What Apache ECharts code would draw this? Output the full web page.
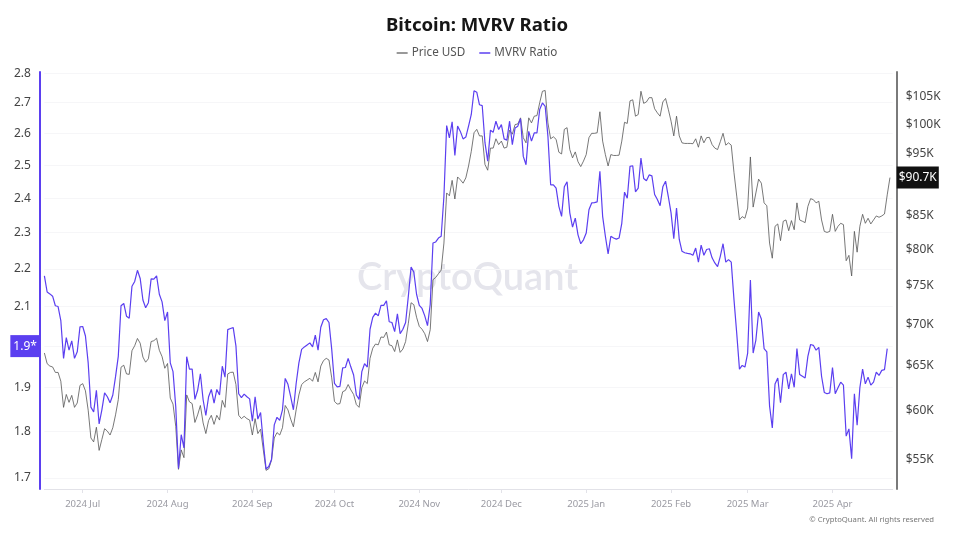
<!DOCTYPE html>
<html>
<head>
<meta charset="utf-8">
<title>Bitcoin: MVRV Ratio</title>
<style>html,body{margin:0;padding:0;background:#fff}#c{width:954px;height:533px}</style>
<script src="https://cdn.jsdelivr.net/npm/echarts@6/dist/echarts.min.js"></script>
</head>
<body>
<div id="c"></div>
<script>
const startDate = Date.UTC(2024, 5, 17);
const dayCount = 311;
const mvrvRatio = [
2.181,2.138,2.133,2.127,2.102,2.1,2.064,1.97,2.021,1.99,
2.013,1.97,1.986,2.048,2.049,2.025,1.959,1.855,1.844,1.894,
1.817,1.849,1.888,1.879,1.865,1.883,1.926,1.975,2.102,2.108,
2.075,2.07,2.153,2.166,2.196,2.174,2.117,2.097,2.11,2.173,
2.172,2.181,2.132,2.112,2.064,2.086,1.959,1.938,1.856,1.72,
1.793,1.764,1.974,1.944,1.944,1.873,1.894,1.933,1.872,1.836,
1.879,1.896,1.864,1.896,1.883,1.951,1.925,2.041,2.044,2.046,
2.0,1.886,1.877,1.885,1.879,1.874,1.823,1.879,1.828,1.843,
1.775,1.719,1.724,1.739,1.815,1.832,1.825,1.849,1.922,1.908,
1.879,1.849,1.91,1.959,1.992,1.998,2.003,2.008,1.998,2.027,
1.99,2.047,2.066,2.069,2.059,1.992,1.91,1.902,1.903,1.947,
1.948,1.97,1.949,1.93,1.883,1.873,1.938,1.957,1.949,2.042,
2.072,2.083,2.076,2.103,2.103,2.115,2.061,2.059,2.036,2.081,
2.031,2.042,2.059,2.127,2.205,2.191,2.132,2.103,2.095,2.076,
2.051,2.106,2.271,2.274,2.285,2.29,2.405,2.625,2.585,2.637,
2.53,2.623,2.606,2.582,2.588,2.623,2.661,2.74,2.735,2.693,
2.69,2.57,2.512,2.61,2.603,2.639,2.612,2.628,2.582,2.578,
2.639,2.564,2.617,2.623,2.647,2.527,2.501,2.606,2.575,2.601,
2.601,2.677,2.699,2.688,2.591,2.44,2.44,2.43,2.376,2.347,
2.434,2.449,2.357,2.316,2.342,2.294,2.269,2.28,2.299,2.366,
2.386,2.387,2.389,2.481,2.347,2.29,2.241,2.29,2.285,2.282,
2.285,2.327,2.418,2.4,2.496,2.498,2.419,2.43,2.522,2.459,
2.452,2.47,2.467,2.411,2.396,2.378,2.434,2.451,2.405,2.357,
2.283,2.371,2.281,2.248,2.244,2.242,2.241,2.237,2.257,2.218,
2.265,2.237,2.253,2.255,2.23,2.216,2.206,2.234,2.269,2.218,
2.225,2.218,2.118,2.032,1.944,1.953,1.949,1.983,2.17,1.983,
2.015,2.086,2.068,1.994,1.986,1.858,1.808,1.909,1.923,1.865,
1.931,1.937,1.897,1.933,1.901,1.994,1.931,1.927,1.923,1.975,
2.004,2.002,1.99,1.997,1.927,1.889,1.886,1.888,1.948,1.886,
1.9,1.913,1.906,1.79,1.806,1.741,1.886,1.814,1.9,1.944,
1.909,1.925,1.906,1.913,1.937,1.929,1.941,1.943,1.994
];
const priceK = [
66.33,65.08,64.8,64.7,64.07,64.07,63.07,60.2,61.6,60.74,
61.5,60.2,60.67,62.6,62.8,62.0,59.9,57.0,56.6,58.1,
55.75,56.85,57.95,57.7,57.3,58.05,59.4,61.04,64.67,64.9,
63.9,63.85,66.6,67.2,68.07,67.5,65.85,65.25,65.65,67.7,
67.8,68.1,66.65,65.9,64.55,65.1,61.2,60.55,58.2,53.9,
55.8,55.03,61.55,60.8,60.6,58.6,59.4,60.4,58.55,57.45,
58.8,59.35,58.4,59.35,58.85,60.95,60.2,63.9,64.07,64.1,
62.7,59.35,59.0,59.25,59.0,58.85,57.3,59.0,57.45,57.9,
55.8,53.8,53.95,54.8,57.0,57.55,57.3,58.05,60.4,59.93,
58.95,58.15,59.93,61.55,62.7,63.0,63.2,63.4,63.07,64.07,
63.0,64.8,65.44,65.7,65.5,63.45,60.85,60.55,60.6,61.9,
62.05,62.7,62.1,61.6,60.5,60.2,62.35,63.1,62.8,65.7,
66.9,67.4,67.3,68.25,68.2,68.85,67.3,67.2,66.5,67.9,
66.4,66.8,67.7,69.95,72.55,72.3,70.7,69.55,69.2,68.65,
67.7,69.15,75.6,75.9,76.4,76.9,80.7,88.25,87.8,90.25,
87.3,90.8,90.35,89.8,90.65,92.6,95.05,98.25,98.85,97.7,
97.7,92.85,91.9,95.6,95.6,97.2,96.2,96.8,95.6,95.75,
98.7,98.0,99.7,99.8,100.9,97.4,96.5,100.9,100.0,101.2,
101.3,103.65,105.8,105.95,100.0,97.2,97.55,97.1,94.9,94.6,
98.85,99.15,95.35,93.95,94.95,93.3,92.5,93.4,94.5,97.4,
98.15,98.15,98.25,102.0,96.8,94.5,92.6,94.5,94.35,94.35,
94.4,96.8,100.1,99.9,104.0,104.2,101.2,101.5,105.8,103.55,
103.8,104.6,104.6,102.55,101.8,101.2,103.8,104.45,102.45,100.3,
97.7,101.2,97.7,96.5,96.4,96.4,96.4,96.35,97.2,95.75,
97.7,96.5,97.4,97.45,96.2,95.6,95.35,96.7,98.15,96.1,
96.5,96.1,91.5,87.75,84.1,84.6,84.35,85.9,94.1,86.05,
88.25,90.45,89.8,86.7,86.25,80.7,78.55,83.15,83.5,81.05,
83.9,84.1,82.5,84.0,82.65,86.7,84.1,83.9,83.7,86.15,
87.35,87.2,86.7,86.95,84.1,82.4,82.25,82.4,84.95,82.4,
83.15,83.6,83.4,78.2,78.95,76.1,82.4,79.4,83.15,84.95,
83.6,84.35,83.5,84.1,84.7,84.5,84.7,85.0,87.95,90.7
];
const mvrvTicks = [1.7,1.8,1.9,2.0,2.1,2.2,2.3,2.4,2.5,2.6,2.7,2.8];
const priceTicks = [55,60,65,70,75,80,85,90.7,95,100,105];
const mvrvTag = '1.9*';
const purple = '#5b3ff0';
const font = '"Noto Sans","Open Sans",sans-serif';
const months = ['Jan','Feb','Mar','Apr','May','Jun','Jul','Aug','Sep','Oct','Nov','Dec'];
const dates = [];
for (let i = 0; i < dayCount; i++) dates.push(new Date(startDate + i * 864e5).toISOString().slice(0, 10));
const isMonthStart = (idx, v) => v.slice(8) === '01';

const chart = echarts.init(document.getElementById('c'), null, {renderer: 'canvas'});
chart.setOption({
  animation: false,
  backgroundColor: '#fff',
  textStyle: {fontFamily: font},
  title: {
    text: 'Bitcoin: MVRV Ratio', left: 'center', top: 11,
    textStyle: {fontFamily: font, fontWeight: 700, fontSize: 18.6, color: '#161616'}
  },
  legend: {
    top: 42, left: 'center', itemWidth: 11, itemHeight: 1.5, itemGap: 14,
    icon: 'rect',
    textStyle: {fontFamily: font, fontSize: 11.7, color: '#555', padding: [0, 0, 0, -1]},
    data: ['Price USD', 'MVRV Ratio']
  },
  grid: {left: 44.4, right: 61.3, top: 72, bottom: 44},
  xAxis: {
    type: 'category', data: dates, boundaryGap: false,
    axisLine: {lineStyle: {color: '#e2e2e8', width: 1}},
    axisTick: {interval: isMonthStart, length: 4, lineStyle: {color: '#e2e2e8'}},
    axisLabel: {
      interval: isMonthStart, margin: 10, fontSize: 9.5, color: '#9a9aa2', fontFamily: font,
      formatter: v => v.slice(0, 4) + ' ' + months[+v.slice(5, 7) - 1]
    },
    splitLine: {show: false}
  },
  yAxis: [
    {
      type: 'log', position: 'left', offset: 4.5, min: 1.677, max: 2.804,
      axisLine: {show: true, lineStyle: {color: purple, width: 2}},
      axisTick: {show: false, customValues: mvrvTicks},
      splitLine: {show: true, lineStyle: {color: '#f6f6f8', width: 1}},
      axisLabel: {
        customValues: mvrvTicks, margin: 0, hideOverlap: false, color: '#444',
        formatter: v => Math.abs(v - 2) < 1e-6 ? '{tag|' + mvrvTag + '}' : '{n|' + v.toFixed(1) + '}',
        rich: {
          n: {fontSize: 12, color: '#444', fontFamily: font, padding: [0, 9, 0, 0]},
          tag: {fontSize: 12, color: '#fff', backgroundColor: purple, fontFamily: font, padding: [5, 3, 5, 3]}
        }
      }
    },
    {
      type: 'log', position: 'right', offset: 4, min: 52.04, max: 109.5,
      axisLine: {show: true, lineStyle: {color: '#7a7a7a', width: 2}},
      axisTick: {show: false, customValues: priceTicks},
      splitLine: {show: false},
      axisLabel: {
        customValues: priceTicks, margin: 0, hideOverlap: false, color: '#444',
        formatter: v => Math.abs(v - 90.7) < 1e-6 ? '{tag|$' + v + 'K}' : '{n|$' + v + 'K}',
        rich: {
          n: {fontSize: 12, color: '#444', fontFamily: font, padding: [3, 0, 0, 9]},
          tag: {fontSize: 12, color: '#fff', backgroundColor: '#111', fontFamily: font, padding: [5, 2, 5, 2]}
        }
      }
    }
  ],
  series: [
    {
      name: 'Price USD', type: 'line', yAxisIndex: 1, data: priceK, symbol: 'none', silent: true,
      lineStyle: {color: '#555', width: 0.8}, itemStyle: {color: '#777'}, z: 2
    },
    {
      name: 'MVRV Ratio', type: 'line', yAxisIndex: 0, data: mvrvRatio, symbol: 'none', silent: true,
      lineStyle: {color: purple, width: 1.2}, itemStyle: {color: purple}, z: 3
    }
  ],
  graphic: [
    {
      type: 'text', left: 357, top: 259, z: -1, silent: true,
      style: {text: 'CryptoQuant', fontFamily: 'Lato, sans-serif', fontSize: 38, fontWeight: 600, fill: '#e5e5ec'}
    },
    {
      type: 'text', right: 20, top: 515.5, silent: true,
      style: {text: '\u00A9 CryptoQuant. All rights reserved', fontFamily: font, fontSize: 7.7, fill: '#777'}
    }
  ]
});
</script>
</body>
</html>
